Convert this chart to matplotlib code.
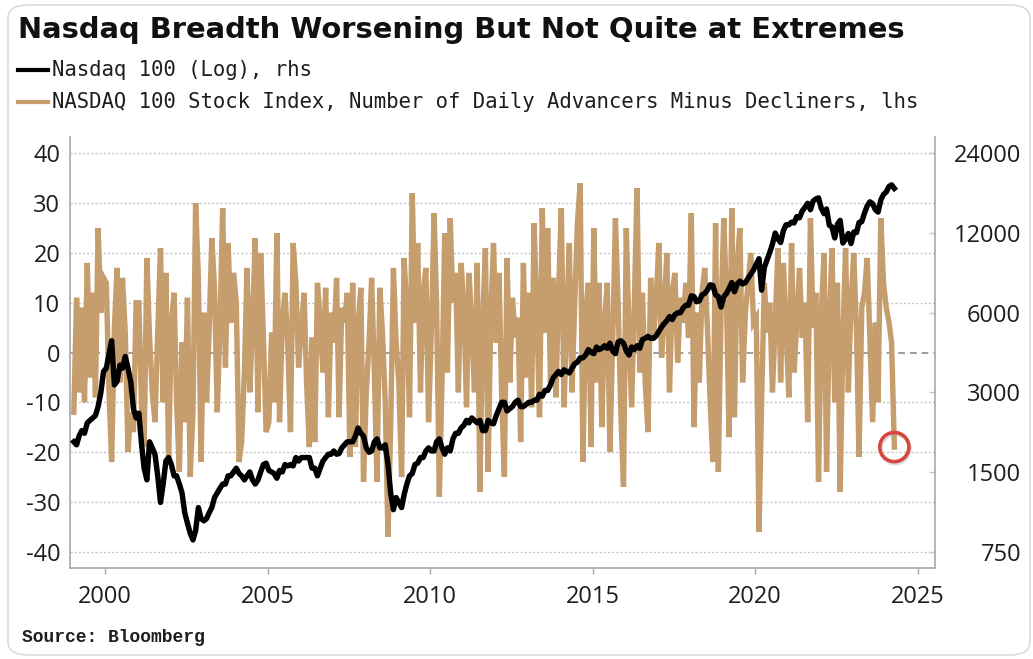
import numpy as np
import pandas as pd
import matplotlib
matplotlib.use("Agg")
import matplotlib.pyplot as plt
import matplotlib.patheffects as pe
from matplotlib.lines import Line2D
from matplotlib.patches import FancyBboxPatch
from matplotlib.ticker import NullLocator

# Nasdaq 100 advancers minus decliners (monthly readings, lhs), Jan 1999 .. Apr 2024
breadth = [
    -12, 11, -8, 9, -10, 18, -5, 12, -9, 25, 8, 15,        # 1999
    14, -8, -22, 5, 17, -6, 15, 4, -20, -12, -16, 10,      # 2000
    10, -12, -19, 19, 3, -8, -14, 4, 21, -10, 16, -22,     # 2001
    6, 12, -10, -24, 2, -14, 11, -25, -12, 30, 15, -22,    # 2002
    8, -10, 4, 23, 13, -12, 5, 29, -3, 22, 6, 16,          # 2003
    10, -22, -18, -4, 17, -8, 6, 23, -12, 20, 3, -16,      # 2004
    -14, 4, -10, 24, -14, 6, 12, 2, -16, 22, 14, -3,       # 2005
    5, 12, -6, -19, 3, -18, 14, 6, -4, 13, -13, 8,         # 2006
    2, 15, -13, 9, 6, 12, -21, 14, -19, 6, 13, -26,        # 2007
    -8, 2, 15, -4, -26, 13, 4, -10, -37, -15, 17, 2,       # 2008
    -6, -25, 19, 8, -13, 32, 6, 22, -8, 12, 17, -14,       # 2009
    4, 28, 10, -29, -6, 24, -4, 27, 10, 16, -8, 18,        # 2010
    10, -11, 16, 5, -8, 18, -28, 6, 21, -24, 8, 22,        # 2011
    2, 16, -8, -25, 19, -6, 11, 3, 7, -18, 18, -5,         # 2012
    12, -11, 26, 8, -13, 29, 4, 25, -6, 15, -9, 12,        # 2013
    29, -11, 6, 22, -8, 10, 26, 34, -22, 8, 14, -19,       # 2014
    25, -6, 14, -15, 6, 14, -20, 2, 27, 10, -12, -27,      # 2015
    25, 4, -11, 10, 33, -4, 12, -6, -16, 15, 3, 10,        # 2016
    22, -1, 8, 20, -8, 12, 16, -2, 11, 6, 14, 3,           # 2017
    28, -15, 8, -6, 12, 17, 5, -10, -22, 26, -24, 8,       # 2018
    27, 10, -17, 29, -13, 18, 25, -6, 8, 14, 20, 6,        # 2019
    7, -36, -10, 14, 4, 10, -8, 6, 21, -6, 18, 5,          # 2020
    -9, 22, -4, 6, 17, 3, 10, -14, 27, 5, 12, -26,         # 2021
    8, 20, -24, 6, 21, -10, 14, -28, 3, 21, -8, 10,        # 2022
    20, 4, -21, 9, 12, 19, 3, -14, 6, -10, 27, 14,         # 2023
    9, 6, 2, -19,                                          # 2024
]

# Nasdaq 100 index level (rhs, log scale), same months
ndx = [
    1950, 1900, 2050, 2150, 2100, 2300, 2350, 2400, 2450, 2650, 3000, 3600,
    3700, 4200, 4700, 3200, 3300, 3800, 3700, 4100, 3700, 3300, 2600, 2400,
    2500, 1900, 1550, 1400, 1950, 1850, 1750, 1450, 1150, 1350, 1650, 1700,
    1600, 1450, 1450, 1350, 1250, 1050, 960, 880, 830, 900, 1100, 1000,
    980, 1000, 1050, 1100, 1200, 1250, 1300, 1350, 1350, 1450, 1450, 1500,
    1550, 1480, 1450, 1400, 1450, 1500, 1400, 1350, 1400, 1500, 1600, 1620,
    1520, 1500, 1480, 1420, 1520, 1500, 1600, 1580, 1600, 1580, 1700, 1650,
    1700, 1700, 1700, 1700, 1550, 1550, 1450, 1550, 1650, 1700, 1750, 1750,
    1800, 1750, 1760, 1850, 1900, 1950, 1950, 1950, 2050, 2200, 2100, 2050,
    1850, 1780, 1800, 1950, 2000, 1850, 1850, 1900, 1600, 1250, 1080, 1200,
    1150, 1100, 1230, 1350, 1450, 1480, 1600, 1620, 1700, 1700, 1800, 1850,
    1800, 1800, 1950, 2000, 1850, 1750, 1850, 1800, 2000, 2100, 2100, 2200,
    2250, 2350, 2300, 2400, 2350, 2300, 2350, 2150, 2150, 2350, 2300, 2280,
    2450, 2600, 2750, 2750, 2550, 2600, 2650, 2750, 2800, 2650, 2650, 2700,
    2750, 2750, 2800, 2800, 2950, 2900, 3050, 3050, 3200, 3400, 3500, 3600,
    3500, 3650, 3600, 3550, 3700, 3850, 3900, 4050, 4050, 4150, 4350, 4250,
    4200, 4450, 4350, 4400, 4500, 4400, 4600, 4300, 4200, 4650, 4700, 4600,
    4300, 4150, 4450, 4350, 4500, 4400, 4750, 4800, 4880, 4800, 4800, 4900,
    5100, 5300, 5450, 5600, 5800, 5650, 5900, 6000, 6000, 6250, 6400, 6400,
    6950, 6900, 6600, 6650, 7000, 7100, 7300, 7650, 7600, 7000, 6900, 6300,
    6900, 7100, 7400, 7800, 7200, 7700, 7900, 7700, 7800, 8100, 8400, 8700,
    9150, 9600, 7300, 8900, 9500, 10150, 10900, 12000, 11400, 11050, 12250, 12900,
    12900, 13200, 13100, 13850, 13700, 14550, 15000, 15550, 14700, 15850, 16150, 16300,
    14900, 14200, 14800, 12850, 12650, 11500, 12950, 13400, 11000, 11400, 11950, 10950,
    12100, 12050, 13150, 13250, 14250, 15200, 15750, 15500, 14700, 14400, 16000, 16800,
    17150, 18000, 18250, 17700,
]

left_ticks = [-40, -30, -20, -10, 0, 10, 20, 30, 40]
right_ticks = [750, 1500, 3000, 6000, 12000, 24000]
year_ticks = [2000, 2005, 2010, 2015, 2020, 2025]

title = "Nasdaq Breadth Worsening But Not Quite at Extremes"
label_ndx = "Nasdaq 100 (Log), rhs"
label_breadth = "NASDAQ 100 Stock Index, Number of Daily Advancers Minus Decliners, lhs"
source = "Source: Bloomberg"

TAN = "#C69E6E"
GRID = "#c4c4c4"
SPINE = "#a8a8a8"
TXT = "#1e1e1e"

months = pd.date_range("1999-01-01", periods=len(breadth), freq="MS") + pd.Timedelta(days=14)

W, H = 1033, 659
fig = plt.figure(figsize=(W / 100, H / 100), dpi=100)

# rounded frame of the card
fig.add_artist(FancyBboxPatch((8 / W, 1 - 655 / H), (1030 - 8) / W, (655 - 5) / H,
                              boxstyle="round,pad=0,rounding_size=0.02",
                              transform=fig.transFigure, fc="none", ec="#d5dbe2", lw=1.2,
                              zorder=-5))

ax = fig.add_axes([70 / W, 1 - 568 / H, (935 - 70) / W, (568 - 137) / H])
ax.set_facecolor("none")

lim = 43.3
ax.set_ylim(-lim, lim)
ax.set_xlim(pd.Timestamp("1998-12-03"), pd.Timestamp("2025-07-16"))

for v in left_ticks:
    if v == 0:
        ax.axhline(v, color="#8c8c8c", lw=1.2, ls=(0, (4, 3)), zorder=0)
    else:
        ax.axhline(v, color=GRID, lw=1.0, ls=(0, (1.5, 1.5)), zorder=0)

ax.plot(months, breadth, color=TAN, lw=3.9, zorder=2, solid_joinstyle="miter")
ax.plot(months[-1], breadth[-1], marker="o", ms=21, mfc="none", mec="#d8463f", mew=2.6, zorder=4,
        path_effects=[pe.SimpleLineShadow(offset=(0.8, -1.5), shadow_color="#9aa4ad", alpha=0.35),
                      pe.Normal()])

ax.set_yticks(left_ticks)
ax.set_yticklabels([str(v) for v in left_ticks])
ax.set_xticks([pd.Timestamp(f"{y}-01-01") for y in year_ticks])
ax.set_xticklabels([str(y) for y in year_ticks])
ax.tick_params(axis="y", length=0, pad=7, labelsize=17, labelcolor=TXT)
ax.tick_params(axis="x", length=4, width=1, color=SPINE, pad=8, labelsize=17, labelcolor=TXT)
for lab in ax.get_xticklabels() + ax.get_yticklabels():
    lab.set_family("Open Sans")

for s in ["top", "right"]:
    ax.spines[s].set_visible(False)
for s in ["left", "bottom"]:
    ax.spines[s].set_color(SPINE)
    ax.spines[s].set_linewidth(1.2)

# right axis: log scale aligned so 24000 <-> 40 and 750 <-> -40
ax2 = ax.twinx()
ax2.set_yscale("log")
k = 2 ** ((lim - 40) / 16)
ax2.set_ylim(750 / k, 24000 * k)
ax2.plot(months, ndx, color="black", lw=3.9, zorder=3, solid_joinstyle="round")
ax2.set_yticks(right_ticks)
ax2.set_yticklabels([str(v) for v in right_ticks])
ax2.yaxis.set_minor_locator(NullLocator())
ax2.tick_params(axis="y", direction="in", length=4, width=1, color="#c8c8c8", pad=62,
                labelsize=17, labelcolor=TXT)
for lab in ax2.get_yticklabels():
    lab.set_ha("right")
    lab.set_family("Open Sans")
for s in ["top", "left", "bottom"]:
    ax2.spines[s].set_visible(False)
ax2.spines["right"].set_color(SPINE)
ax2.spines["right"].set_linewidth(1.2)

# title, legend, source
fig.text(18 / W, 1 - 30 / H, title, fontsize=20.9, fontweight="bold", va="center", color="#111111")

fig.add_artist(Line2D([18 / W, 48 / W], [1 - 70 / H] * 2, color="black", lw=3, transform=fig.transFigure))
fig.text(52 / W, 1 - 70 / H, label_ndx, family="DejaVu Sans Mono", fontsize=14.9, va="center", color=TXT)
fig.add_artist(Line2D([18 / W, 48 / W], [1 - 102 / H] * 2, color=TAN, lw=3, transform=fig.transFigure))
fig.text(52 / W, 1 - 102 / H, label_breadth, family="DejaVu Sans Mono", fontsize=14.9, va="center", color=TXT)

fig.text(22 / W, 1 - 638 / H, source, family="Liberation Mono", fontweight="bold", fontsize=13,
         va="center", color=TXT)

fig.savefig("out.png", dpi=100)
